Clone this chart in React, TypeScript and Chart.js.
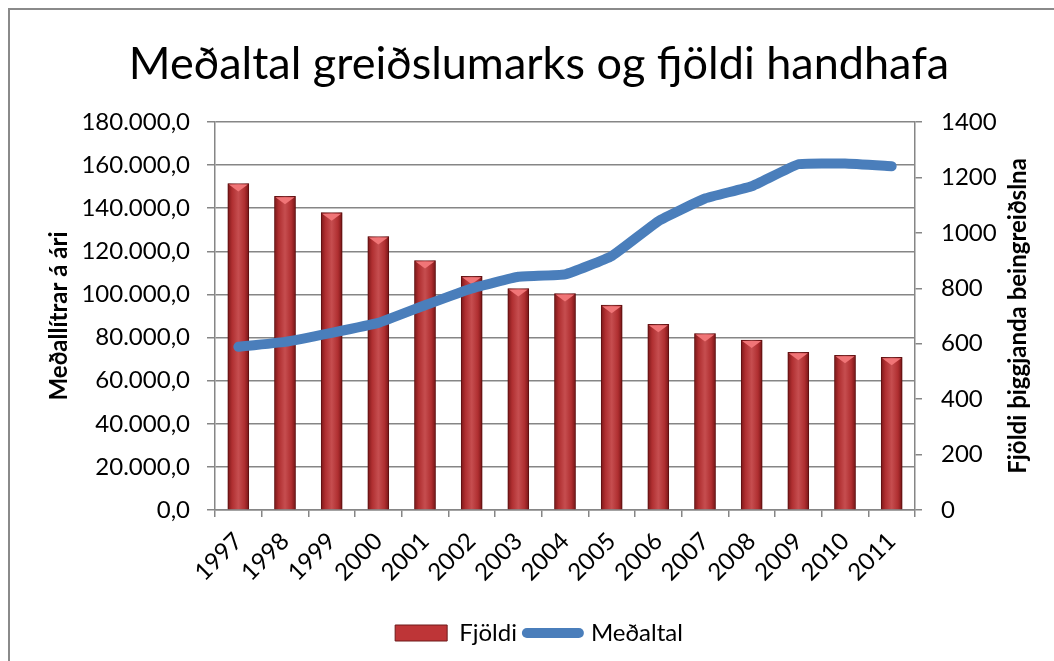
import React, { useEffect, useRef } from "react";
import { Chart, registerables } from "chart.js";

Chart.register(...registerables);

const years = ["1997", "1998", "1999", "2000", "2001", "2002", "2003", "2004", "2005", "2006", "2007", "2008", "2009", "2010", "2011"];
const fjoldi = [1178, 1132, 1073, 987, 900, 843, 799, 781, 739, 670, 637, 613, 569, 558, 551];
const medaltal = [75700, 78000, 82200, 86800, 95000, 102800, 108200, 109300, 117800, 134000, 144500, 150200, 160400, 160700, 159500];

const titleText = "Meðaltal greiðslumarks og fjöldi handhafa";
const leftTitle = "Meðallítrar á ári";
const rightTitle = "Fjöldi þiggjanda beingreiðslna";
const barLabel = "Fjöldi";
const lineLabel = "Meðaltal";

const FONT = "Lato, 'Open Sans', sans-serif";
const GRID = "#868686";
const BAR = "#BE3537";
const BAR_EDGE = "#6E1A1B";
const LINE = "#4A7EBB";

const fmt = (v: number) =>
  Math.round(v).toString().replace(/\B(?=(\d{3})+(?!\d))/g, ".") + ",0";

const barShade = {
  id: "barShade",
  afterDatasetDraw(chart: any, args: any) {
    const meta = args.meta;
    if (meta.type !== "bar") return;
    const ctx = chart.ctx;
    meta.data.forEach((el: any) => {
      const { x, y, base, width } = el.getProps(["x", "y", "base", "width"], true);
      const l = x - width / 2;
      const r = x + width / 2;
      const g = ctx.createLinearGradient(l, 0, r, 0);
      g.addColorStop(0, "rgba(70,0,0,0.55)");
      g.addColorStop(0.2, "rgba(70,0,0,0.12)");
      g.addColorStop(0.5, "rgba(255,255,255,0.12)");
      g.addColorStop(0.8, "rgba(70,0,0,0.12)");
      g.addColorStop(1, "rgba(70,0,0,0.6)");
      ctx.save();
      ctx.fillStyle = g;
      ctx.fillRect(l, y, width, base - y);
      ctx.beginPath();
      ctx.moveTo(l + 1, y + 1);
      ctx.lineTo(r - 1, y + 1);
      ctx.lineTo(x, y + 8);
      ctx.closePath();
      ctx.fillStyle = "#F07577";
      ctx.fill();
      ctx.restore();
    });
  },
};

const rightTitlePlugin = {
  id: "rightTitle",
  afterDraw(chart: any) {
    const s = chart.scales.yR;
    const { top, bottom } = chart.chartArea;
    const ctx = chart.ctx;
    ctx.save();
    ctx.translate(s.right - 36, (top + bottom) / 2);
    ctx.rotate(-Math.PI / 2);
    ctx.font = `bold 24px ${FONT}`;
    ctx.fillStyle = "#000";
    ctx.textAlign = "center";
    ctx.textBaseline = "middle";
    ctx.fillText(rightTitle, 0, 0);
    ctx.restore();
  },
};

export default function App() {
  const ref = useRef<HTMLCanvasElement>(null);
  useEffect(() => {
    if (!ref.current) return;
    const tickFont = { family: FONT, size: 24 };
    const chart = new Chart(ref.current, {
      data: {
        labels: years,
        datasets: [
          {
            type: "bar",
            label: barLabel,
            data: fjoldi,
            yAxisID: "yR",
            backgroundColor: BAR,
            borderColor: BAR_EDGE,
            borderWidth: 1,
            barThickness: 21,
            order: 1,
          },
          {
            type: "line",
            label: lineLabel,
            data: medaltal,
            yAxisID: "yL",
            borderColor: LINE,
            backgroundColor: LINE,
            borderWidth: 10,
            borderCapStyle: "round",
            borderJoinStyle: "round",
            pointRadius: 0,
            tension: 0.1,
            order: 0,
          },
        ],
      } as any,
      options: {
        responsive: false,
        animation: false,
        devicePixelRatio: 1,
        layout: { padding: { left: 24, right: 0, top: 0, bottom: 6 } },
        plugins: {
          tooltip: { enabled: false },
          title: {
            display: true,
            text: titleText,
            color: "#000",
            font: { family: FONT, size: 45, weight: "normal" },
            padding: { top: 37, bottom: 31 },
          },
          legend: {
            position: "bottom",
            labels: {
              usePointStyle: true,
              pointStyleWidth: 52,
              boxHeight: 16,
              color: "#000",
              font: { family: FONT, size: 24 },
              padding: 10,
              sort: (a: any, b: any) => a.datasetIndex - b.datasetIndex,
              generateLabels: (chart: any) => {
                const items = (Chart.defaults.plugins.legend.labels as any).generateLabels(chart);
                return items.map((it: any) => {
                  if (it.datasetIndex === 0) {
                    return { ...it, pointStyle: "rect", fillStyle: BAR, strokeStyle: BAR_EDGE, lineWidth: 1 };
                  }
                  return { ...it, pointStyle: "line", strokeStyle: LINE, fillStyle: LINE, lineWidth: 10, lineCap: "round" };
                });
              },
            },
          },
        },
        scales: {
          x: {
            offset: true,
            grid: { offset: true, drawOnChartArea: false, drawTicks: true, tickLength: 7, color: GRID, lineWidth: 1.5 },
            border: { color: GRID, width: 1.5 },
            ticks: { maxRotation: 45, minRotation: 45, color: "#000", font: tickFont, padding: 10 },
            afterFit: (s: any) => {
              s.height = 101;
            },
          },
          yL: {
            position: "left",
            min: 0,
            max: 180000,
            ticks: { stepSize: 20000, callback: (v: any) => fmt(Number(v)), color: "#000", font: tickFont, padding: 17 },
            grid: { color: GRID, lineWidth: 1.5, tickLength: 8 },
            border: { color: GRID, width: 1.5 },
            title: {
              display: true,
              text: leftTitle,
              color: "#000",
              font: { family: FONT, size: 24, weight: "bold" },
              padding: { top: 21, bottom: 0 },
            },
            afterFit: (s: any) => {
              s.width = 191;
            },
          },
          yR: {
            position: "right",
            min: 0,
            max: 1400,
            ticks: { stepSize: 200, callback: (v: any) => String(v), color: "#000", font: tickFont, padding: 19 },
            grid: { drawOnChartArea: false, tickLength: 7, color: GRID, lineWidth: 1.5 },
            border: { color: GRID, width: 1.5 },
            afterFit: (s: any) => {
              s.width = 139;
            },
          },
        },
      } as any,
      plugins: [barShade, rightTitlePlugin],
    });
    return () => chart.destroy();
  }, []);

  return (
    <div style={{ position: "fixed", left: 0, top: 0, width: 1054, height: 661, background: "#fff", overflow: "hidden" }}>
      <canvas ref={ref} width={1054} height={661} style={{ display: "block", position: "absolute", left: 0, top: 0 }} />
      <div
        style={{
          position: "absolute",
          left: 8,
          top: 8,
          width: 1100,
          height: 700,
          borderLeft: "2px solid #8a8a8a",
          borderTop: "2px solid #8a8a8a",
          pointerEvents: "none",
        }}
      />
    </div>
  );
}
